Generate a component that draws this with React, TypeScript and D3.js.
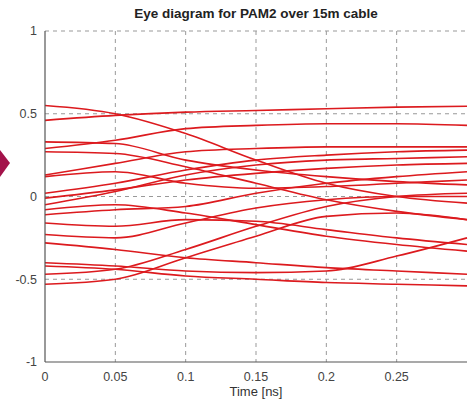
import React from 'react';
import * as d3 from 'd3';

// time samples [ns] and the traces
const timeSamples = [0, 0.05, 0.1, 0.15, 0.2, 0.25, 0.3];
const traces: number[][] = [
  [0.55, 0.5, 0.38, 0.22, 0.08, 0.0, -0.04],
  [0.46, 0.49, 0.51, 0.52, 0.53, 0.54, 0.545],
  [0.29, 0.34, 0.41, 0.43, 0.44, 0.44, 0.43],
  [0.33, 0.32, 0.22, 0.16, 0.12, 0.09, 0.07],
  [0.27, 0.26, 0.18, 0.08, -0.02, -0.09, -0.14],
  [0.13, 0.2, 0.27, 0.29, 0.3, 0.3, 0.3],
  [0.12, 0.15, 0.08, 0.05, 0.06, 0.08, 0.1],
  [0.02, 0.08, 0.16, 0.22, 0.25, 0.27, 0.28],
  [-0.01, 0.04, 0.1, 0.14, 0.17, 0.19, 0.2],
  [-0.05, 0.03, 0.13, 0.19, 0.22, 0.23, 0.24],
  [-0.08, -0.05, -0.1, -0.17, -0.24, -0.29, -0.33],
  [-0.11, -0.08, -0.06, 0.02, 0.08, 0.12, 0.15],
  [-0.16, -0.18, -0.14, -0.15, -0.2, -0.25, -0.29],
  [-0.23, -0.25, -0.16, -0.07, -0.02, 0.0, 0.0],
  [-0.28, -0.32, -0.37, -0.4, -0.43, -0.45, -0.47],
  [-0.4, -0.42, -0.45, -0.46, -0.45, -0.36, -0.25],
  [-0.42, -0.44, -0.48, -0.5, -0.52, -0.53, -0.54],
  [-0.47, -0.44, -0.32, -0.18, -0.06, 0.0, 0.02],
  [-0.53, -0.5, -0.37, -0.24, -0.12, -0.1, -0.14],
];
const xTicks = [0, 0.05, 0.1, 0.15, 0.2, 0.25];
const yTicks = [-1, -0.5, 0, 0.5, 1];

const W = 468;
const H = 403;
const margin = { top: 31, right: 1, bottom: 41, left: 45 };

export default function App() {
  const x = d3.scaleLinear().domain([0, 0.3]).range([margin.left, W - margin.right]);
  const y = d3.scaleLinear().domain([-1, 1]).range([H - margin.bottom, margin.top]);

  const line = d3
    .line<number>()
    .x((_, i) => x(timeSamples[i]))
    .y(d => y(d))
    .curve(d3.curveMonotoneX);

  const font = 'Liberation Sans, Arial, sans-serif';

  return (
    <svg
      width={W}
      height={H}
      style={{ position: 'absolute', left: 0, top: 0, background: '#fff' }}
      fontFamily={font}
    >
      {/* slide arrow marker on the left */}
      <polygon points="0,150 10,163 0,177" fill="#a3124a" />

      {/* grid */}
      {xTicks.slice(1).map(t => (
        <line key={'gx' + t} x1={x(t)} x2={x(t)} y1={y(1)} y2={y(-1)}
          stroke="#999" strokeDasharray="4,4" strokeWidth={1} />
      ))}
      {yTicks.slice(1).map(t => (
        <line key={'gy' + t} x1={x(0)} x2={x(0.3)} y1={y(t)} y2={y(t)}
          stroke="#999" strokeDasharray="4,4" strokeWidth={1} />
      ))}

      {/* traces */}
      {traces.map((tr, i) => (
        <path key={i} d={line(tr) || ''} fill="none" stroke="#dc1a1e" strokeWidth={1.6} />
      ))}

      {/* axes */}
      <line x1={x(0)} x2={x(0)} y1={y(1)} y2={y(-1)} stroke="#555" strokeWidth={1.2} />
      <line x1={x(0)} x2={x(0.3)} y1={y(-1)} y2={y(-1)} stroke="#555" strokeWidth={1.2} />

      {yTicks.map(t => (
        <text key={'ty' + t} x={x(0) - 8} y={y(t)} dy="0.35em" textAnchor="end"
          fontSize={12.5} fill="#444">{t}</text>
      ))}
      {xTicks.map(t => (
        <text key={'tx' + t} x={x(t)} y={y(-1) + 19} textAnchor="middle"
          fontSize={12.5} fill="#444">{t}</text>
      ))}

      <text x={(x(0) + x(0.3)) / 2} y={396} textAnchor="middle" fontSize={13} fill="#333">
        Time [ns]
      </text>
      <text x={(x(0) + x(0.3)) / 2} y={18} textAnchor="middle" fontSize={13.5}
        fontWeight="bold" fill="#222">
        Eye diagram for PAM2 over 15m cable
      </text>
    </svg>
  );
}
